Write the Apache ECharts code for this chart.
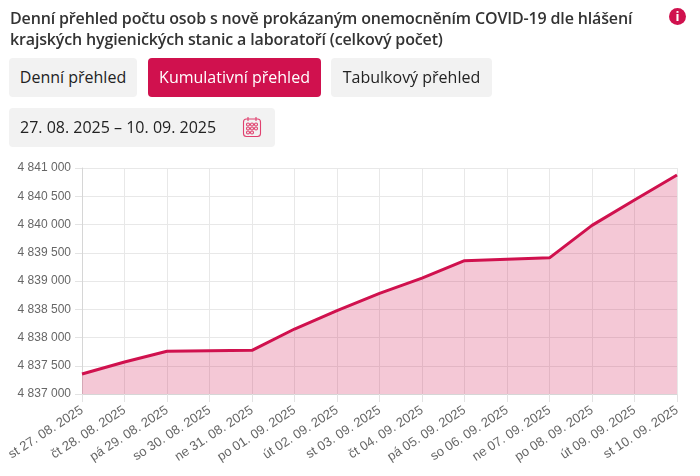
<!DOCTYPE html>
<html>
<head>
<meta charset="utf-8">
<script src="https://cdn.jsdelivr.net/npm/echarts@6/dist/echarts.min.js"></script>
<style>
  html, body { margin:0; padding:0; background:#fff; }
  body { width:700px; height:476px; position:relative; overflow:hidden; font-family:"Open Sans", "Noto Sans", sans-serif; }
  #chart { position:absolute; left:0; top:0; width:700px; height:476px; }
  .title { position:absolute; left:10px; top:8px; width:650px; font-size:16px; line-height:21px; color:#333; font-weight:600; letter-spacing:-0.15px; }
  .info { position:absolute; left:669px; top:8px; width:17px; height:17px; border-radius:50%; background:#d0114e; color:#fff; font-size:13px; font-weight:700; text-align:center; line-height:17px; font-family:"Open Sans", sans-serif; }
  .btn { position:absolute; top:58px; height:39px; line-height:39px; border-radius:4px; background:#f2f2f2; color:#222; font-size:16px; text-align:center; }
  .btn.active { background:#d0114e; color:#fff; }
  .date { position:absolute; left:9px; top:108px; width:266px; height:39px; line-height:39px; border-radius:4px; background:#f2f2f2; color:#222; font-size:16px; }
  .date span { position:absolute; left:11px; }
  .date svg { position:absolute; left:233px; top:8px; }
</style>
</head>
<body>
<div id="chart"></div>
<div class="title">Denní přehled počtu osob s nově prokázaným onemocněním COVID-19 dle hlášení krajských hygienických stanic a laboratoří (celkový počet)</div>
<div class="info">i</div>
<div class="btn" style="left:9px;width:128px;">Denní přehled</div>
<div class="btn active" style="left:148px;width:173px;">Kumulativní přehled</div>
<div class="btn" style="left:331px;width:161px;">Tabulkový přehled</div>
<div class="date"><span>27. 08. 2025 – 10. 09. 2025</span>
<svg width="20" height="22" viewBox="0 0 20 22" fill="none" stroke="#e0416f" stroke-width="1.1">
  <rect x="1.5" y="3" width="17" height="17.5" rx="3"/>
  <line x1="6" y1="1" x2="6" y2="5"/><line x1="14" y1="1" x2="14" y2="5"/>
  <circle cx="6" cy="8.5" r="1.5"/><circle cx="10" cy="8.5" r="1.5"/><circle cx="14" cy="8.5" r="1.5"/>
  <circle cx="6" cy="12.5" r="1.5"/><circle cx="10" cy="12.5" r="1.5"/><circle cx="14" cy="12.5" r="1.5"/>
  <circle cx="6" cy="16.5" r="1.5"/><circle cx="10" cy="16.5" r="1.5"/>
</svg></div>
<script>
const categories = ["st 27. 08. 2025","čt 28. 08. 2025","pá 29. 08. 2025","so 30. 08. 2025","ne 31. 08. 2025","po 01. 09. 2025","út 02. 09. 2025","st 03. 09. 2025","čt 04. 09. 2025","pá 05. 09. 2025","so 06. 09. 2025","ne 07. 09. 2025","po 08. 09. 2025","út 09. 09. 2025","st 10. 09. 2025"];
const cumulative = [4837354, 4837566, 4837756, 4837766, 4837773, 4838150, 4838475, 4838780, 4839050, 4839360, 4839385, 4839410, 4839985, 4840435, 4840876];
const yMin = 4837000, yMax = 4841000, yStep = 500;

const chart = echarts.init(document.getElementById('chart'));
chart.setOption({
  animation: false,
  grid: { left: 82, right: 23, top: 168, bottom: 82, containLabel: false },
  xAxis: {
    type: 'category',
    data: categories,
    boundaryGap: false,
    axisLine: { lineStyle: { color: '#d6d6d6' } },
    axisTick: { show: true, length: 8, alignWithLabel: true, lineStyle: { color: '#e3e3e3' } },
    axisLabel: { rotate: 33, interval: 0, color: '#666', fontSize: 13, fontFamily: 'Liberation Sans, Arial, sans-serif', margin: 15 },
    splitLine: { show: true, lineStyle: { color: '#e8e8e8' } }
  },
  yAxis: {
    type: 'value',
    min: yMin, max: yMax, interval: yStep,
    axisLine: { show: true, lineStyle: { color: '#d6d6d6' } },
    axisTick: { show: true, length: 7, lineStyle: { color: '#e3e3e3' } },
    axisLabel: { color: '#666', fontSize: 12, fontFamily: 'Liberation Sans, Arial, sans-serif', margin: 11,
      formatter: v => String(v).replace(/\B(?=(\d{3})+(?!\d))/g, ' ') },
    splitLine: { show: true, lineStyle: { color: '#e8e8e8' } }
  },
  series: [{
    type: 'line',
    data: cumulative,
    showSymbol: false,
    symbol: 'none',
    lineStyle: { color: '#d0114e', width: 3 },
    itemStyle: { color: '#d0114e' },
    areaStyle: { color: 'rgba(208,17,78,0.33)' }
  }]
});
</script>
</body>
</html>
